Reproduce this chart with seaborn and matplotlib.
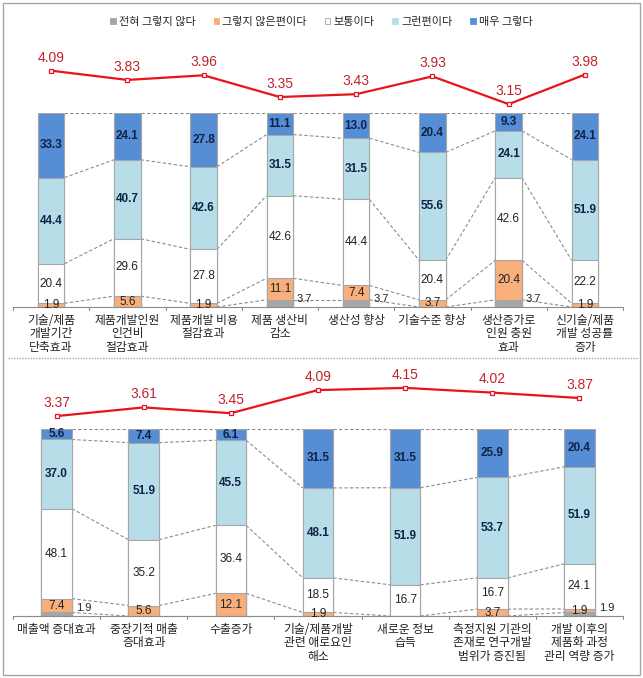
import numpy as np
import pandas as pd
import matplotlib
matplotlib.use('Agg')
import matplotlib.pyplot as plt
from matplotlib.patches import Rectangle
from matplotlib.lines import Line2D
import seaborn as sns

# 응답 범주
levels = ['전혀 그렇지 않다', '그렇지 않은편이다', '보통이다', '그런편이다', '매우 그렇다']
colors = ['#A6A6A6', '#F9AF7C', '#FFFFFF', '#B7DEE8', '#558ED5']

# 상단 패널
top_cats = ['기술/제품\n개발기간\n단축효과', '제품개발인원\n인건비\n절감효과', '제품개발 비용\n절감효과',
            '제품 생산비\n감소', '생산성 향상', '기술수준 향상', '생산증가로\n인원 충원\n효과',
            '신기술/제품\n개발 성공률\n증가']
top_never = [0, 0, 0, 3.7, 3.7, 0, 3.7, 0]
top_no = [1.9, 5.6, 1.9, 11.1, 7.4, 3.7, 20.4, 1.9]
top_normal = [20.4, 29.6, 27.8, 42.6, 44.4, 20.4, 42.6, 22.2]
top_yes = [44.4, 40.7, 42.6, 31.5, 31.5, 55.6, 24.1, 51.9]
top_very = [33.3, 24.1, 27.8, 11.1, 13.0, 20.4, 9.3, 24.1]
top_mean = [4.09, 3.83, 3.96, 3.35, 3.43, 3.93, 3.15, 3.98]

# 하단 패널
bot_cats = ['매출액 증대효과', '중장기적 매출\n증대효과', '수출증가', '기술/제품개발\n관련 애로요인\n해소',
            '새로운 정보\n습득', '측정지원 기관의\n존재로 연구개발\n범위가 증진됨',
            '개발 이후의\n제품화 과정\n관리 역량 증가']
bot_never = [1.9, 0, 0, 0, 0, 0, 1.9]
bot_no = [7.4, 5.6, 12.1, 1.9, 0, 3.7, 1.9]
bot_normal = [48.1, 35.2, 36.4, 18.5, 16.7, 16.7, 24.1]
bot_yes = [37.0, 51.9, 45.5, 48.1, 51.9, 53.7, 51.9]
bot_very = [5.6, 7.4, 6.1, 31.5, 31.5, 25.9, 20.4]
bot_mean = [3.37, 3.61, 3.45, 4.09, 4.15, 4.02, 3.87]

sns.set_style('white')
plt.rcParams['font.family'] = ['Noto Sans CJK KR', 'DejaVu Sans']
NUM_FONT = 'Liberation Sans'

W, H = 643, 678
fig = plt.figure(figsize=(W / 100, H / 100), dpi=100)


def px_axes(x0, y0, x1, y1):
    # 픽셀 좌표(위 기준)로 axes 생성
    return fig.add_axes([x0 / W, 1 - y1 / H, (x1 - x0) / W, (y1 - y0) / H])


def draw_panel(ax_bar, ax_line, cats, parts, means, ylim_line, width=0.35):
    n = len(cats)
    df = pd.DataFrame(np.array(parts).T, columns=levels)
    df['cat'] = cats
    cum = df[levels].cumsum(axis=1)

    # 누적 막대 (위 단계부터 겹쳐 그리기)
    for lv, col in reversed(list(zip(levels, colors))):
        sns.barplot(x=df['cat'], y=cum[lv].clip(upper=100), color=col, width=width,
                    edgecolor='#A6A6A6', linewidth=0.8, saturation=1, ax=ax_bar)

    # 막대 사이 점선 연결
    for lv in levels:
        vals = cum[lv].clip(upper=100).values
        for i in range(n - 1):
            ax_bar.plot([i + width / 2, i + 1 - width / 2], [vals[i], vals[i + 1]],
                        ls=(0, (3, 2)), color='#8C8C8C', lw=0.8, zorder=0.5)

    # 값 라벨
    for i in range(n):
        base = 0
        for k, lv in enumerate(levels):
            v = df.loc[i, lv]
            if v > 0:
                if k == 0:
                    ax_bar.text(i + width / 2 + 0.05, 1.5, f'{v:.1f}', ha='left', va='bottom',
                                fontsize=8, family=NUM_FONT, color='#222222')
                else:
                    bold = k >= 3
                    ax_bar.text(i, base + v / 2, f'{v:.1f}', ha='center', va='center',
                                fontsize=8.5, family=NUM_FONT,
                                fontweight='bold' if bold else 'normal',
                                color='#0F2347' if bold else '#222222')
            base += v

    ax_bar.set_xlim(-0.5, n - 0.5)
    ax_bar.set_ylim(0, 100)
    ax_bar.set_xlabel('')
    ax_bar.set_ylabel('')
    ax_bar.set_yticks([])
    ax_bar.set_xticks(np.arange(n))
    ax_bar.set_xticklabels(cats, fontsize=8.5, linespacing=1.05, color='#222222')
    ax_bar.tick_params(axis='x', length=0, pad=5)
    for s in ['top', 'left', 'right']:
        ax_bar.spines[s].set_visible(False)
    ax_bar.spines['bottom'].set_color('#8C8C8C')
    ax_bar.spines['bottom'].set_linewidth(0.8)
    # 구간 경계 눈금
    for b in np.arange(n + 1) - 0.5:
        ax_bar.plot([b, b], [0, -1.5], color='#8C8C8C', lw=0.8, clip_on=False)
    ax_bar.patch.set_alpha(0)

    # 평균 선
    sns.lineplot(x=np.arange(n), y=means, color='#E8141C', lw=1.6, marker='s',
                 markersize=3.5, markerfacecolor='white', markeredgecolor='#E8141C',
                 markeredgewidth=0.9, ax=ax_line)
    for i, m in enumerate(means):
        ax_line.text(i, m + 0.17, f'{m:.2f}', ha='center', va='bottom', fontsize=10,
                     family=NUM_FONT, color='#C0232B')
    ax_line.set_xlim(-0.5, n - 0.5)
    ax_line.set_ylim(*ylim_line)
    ax_line.axis('off')


ax_line1 = px_axes(13, 50, 623, 112)
ax_bar1 = px_axes(13, 113, 623, 307)
draw_panel(ax_bar1, ax_line1, top_cats,
           [top_never, top_no, top_normal, top_yes, top_very], top_mean, (2.93, 4.67))

ax_line2 = px_axes(13, 372, 623, 428)
ax_bar2 = px_axes(13, 429, 623, 616)
draw_panel(ax_bar2, ax_line2, bot_cats,
           [bot_never, bot_no, bot_normal, bot_yes, bot_very], bot_mean, (3.04, 4.59))

# 범례
handles = [Rectangle((0, 0), 1, 1, facecolor=c, edgecolor='#A6A6A6' if c == '#FFFFFF' else c, lw=0.6)
           for c in colors]
fig.legend(handles, levels, loc='center', bbox_to_anchor=(0.5, 1 - 22 / H), ncol=5,
           frameon=False, fontsize=8, handlelength=0.5, handleheight=0.5, handletextpad=0.3,
           columnspacing=1.6)

# 구분선과 테두리
fig.add_artist(Line2D([8 / W, 638 / W], [1 - 358 / H, 1 - 358 / H], color='#A6A6A6',
                      lw=1, ls=(0, (1, 1))))
fig.add_artist(Rectangle((3 / W, 3 / H), 637 / W, 672 / H, transform=fig.transFigure,
                         fill=False, edgecolor='#A6A6A6', lw=1))

fig.savefig('out.png', dpi=100)
